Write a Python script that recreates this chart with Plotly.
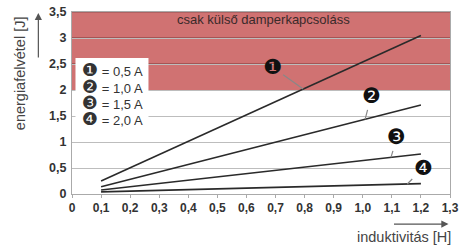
import plotly.graph_objects as go

# data
inductance = [0.1, 1.2]
series_names = ["1", "2", "3", "4"]
series_labels = ["= 0,5 A", "= 1,0 A", "= 1,5 A", "= 2,0 A"]
energy_1 = [0.25, 3.05]
energy_2 = [0.14, 1.71]
energy_3 = [0.077, 0.77]
energy_4 = [0.04, 0.20]
x_ticks = [0, 0.1, 0.2, 0.3, 0.4, 0.5, 0.6, 0.7, 0.8, 0.9, 1.0, 1.1, 1.2, 1.3]
x_ticktext = ["0", "0,1", "0,2", "0,3", "0,4", "0,5", "0,6", "0,7", "0,8", "0,9", "1,0", "1,1", "1,2", "1,3"]
y_ticks = [0, 0.5, 1, 1.5, 2, 2.5, 3, 3.5]
y_ticktext = ["0", "0,5", "1", "1,5", "2", "2,5", "3", "3,5"]
zone_low, zone_high = 2.0, 3.5
zone_text = "csak külső damperkapcsoláss"

series = [energy_1, energy_2, energy_3, energy_4]
dings = ["❶", "❷", "❸", "❹"]

fig = go.Figure()
for name, ys in zip(series_names, series):
    fig.add_trace(go.Scatter(x=inductance, y=ys, mode="lines", name=name,
                             line=dict(color="#2a2a2a", width=1.6), showlegend=False,
                             hoverinfo="skip"))

RED = "rgb(208,114,114)"
fig.add_shape(type="rect", xref="x", yref="y", x0=0, x1=1.3, y0=zone_low, y1=zone_high,
              fillcolor=RED, line=dict(width=0), layer="below")
for gy in [2.5, 3.0]:
    fig.add_shape(type="line", xref="x", yref="y", x0=0, x1=1.3, y0=gy, y1=gy,
                  line=dict(color="rgb(125,55,55)", width=1), layer="below")
fig.add_shape(type="line", xref="x", yref="y", x0=0, x1=1.3, y0=3.5, y1=3.5,
              line=dict(color="rgb(140,80,80)", width=1.2), layer="above")

# legend box
fig.add_shape(type="rect", xref="x", yref="y", x0=0.012, x1=0.263, y0=1.38, y1=2.615,
              fillcolor="white", line=dict(width=0), layer="above")
leg_y = [2.385, 2.07, 1.76, 1.46]
for d, lab, yy in zip(dings, series_labels, leg_y):
    fig.add_annotation(x=0.028, y=yy, xref="x", yref="y", xanchor="left", yanchor="middle",
                       text=f"<span style='font-family:DejaVu Sans;font-size:18px'>{d}</span> {lab}",
                       showarrow=False, font=dict(family="Liberation Sans, Arial", size=13, color="#333"))

fig.add_annotation(x=0.66, y=3.35, xref="x", yref="y", text=zone_text, showarrow=False,
                   xanchor="center", yanchor="middle",
                   font=dict(family="Liberation Sans, Arial", size=13, color="#3a2a2a"))

# callouts: (x on line, series, ax, ay)
callouts = [(0.795, 0, -31, -22), (1.008, 1, 6, -23), (1.097, 2, 6, -20), (1.153, 3, 16, -16)]
for xv, si, ax, ay in callouts:
    ys = series[si]
    yv = ys[0] + (xv - inductance[0]) / (inductance[1] - inductance[0]) * (ys[1] - ys[0])
    fig.add_annotation(x=xv, y=yv, xref="x", yref="y", ax=ax, ay=ay, text=dings[si],
                       showarrow=True, arrowhead=0, arrowwidth=1.2, arrowcolor="#888",
                       font=dict(family="DejaVu Sans", size=21, color="#111"))

# axis titles with arrows
fig.add_annotation(xref="paper", yref="paper", x=-0.137, y=0.665, text="energiafelvétel [J]",
                   textangle=-90, showarrow=False, xanchor="center", yanchor="middle",
                   font=dict(family="Liberation Sans, Arial", size=14.5, color="#444"))
fig.add_annotation(xref="paper", yref="paper", x=-0.089, y=0.995, ax=0, ay=46, text="",
                   showarrow=True, arrowhead=2, arrowsize=1.2, arrowwidth=1.2, arrowcolor="#555")
fig.add_annotation(xref="paper", yref="paper", x=0.877, y=-0.236, text="induktivitás [H]",
                   showarrow=False, xanchor="center", yanchor="middle",
                   font=dict(family="Liberation Sans, Arial", size=14.5, color="#444"))
fig.add_annotation(xref="paper", yref="paper", x=0.996, y=-0.165, ax=-56, ay=0, text="",
                   showarrow=True, arrowhead=2, arrowsize=1.2, arrowwidth=1.2, arrowcolor="#555")

fig.update_xaxes(range=[0, 1.3], tickvals=x_ticks, ticktext=x_ticktext, showgrid=False,
                 zeroline=False, showline=True, linecolor="#aaa", linewidth=1, mirror=True,
                 ticks="outside", ticklen=3, tickcolor="#aaa", automargin=False,
                 ticklabeloverflow="allow",
                 tickfont=dict(family="Liberation Sans, Arial", size=12, color="#333", weight="bold"))
fig.update_yaxes(range=[0, 3.5], tickvals=y_ticks, ticktext=y_ticktext, showgrid=True,
                 gridcolor="#bdbdbd", gridwidth=1, zeroline=False, showline=True, linecolor="#aaa",
                 linewidth=1, mirror=True, ticks="", ticklabelstandoff=2, automargin=False,
                 ticklabeloverflow="allow",
                 tickfont=dict(family="Liberation Sans, Arial", size=12.5, color="#333", weight="bold"))

fig.update_layout(width=462, height=250, margin=dict(l=72, r=12, t=12, b=56, autoexpand=False),
                  paper_bgcolor="white", plot_bgcolor="white", hovermode=False)
fig.write_html("out.html", config={"displayModeBar": False},
               post_script="document.body.style.margin='0';")
